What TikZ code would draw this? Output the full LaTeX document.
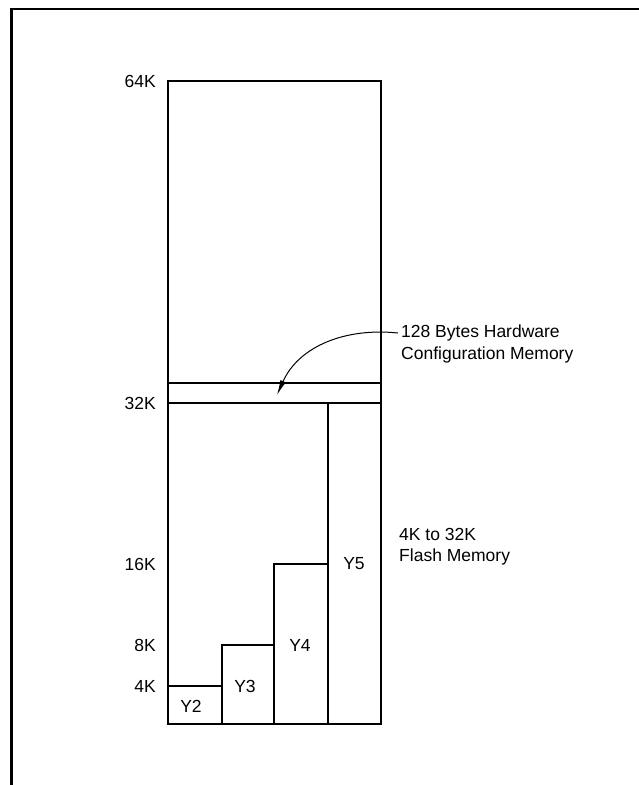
\documentclass[tikz,border=0pt]{standalone}
\usepackage{fontspec}
\setmainfont{Liberation Sans}
\usepackage{tikz}
\usetikzlibrary{positioning,arrows.meta}

\begin{document}
\begin{tikzpicture}[
      x=1pt, y=-1pt,
      font=\fontsize{17.5}{22}\selectfont,
      wall/.style={line width=2pt, line join=miter},
      frame/.style={line width=2.4pt},
      addr/.style={anchor=east, inner sep=0pt},
      note/.style={anchor=west, inner sep=0pt, text height=13pt, text depth=4pt},
      arrow/.style={-{Latex[length=15pt, width=6pt]}, line width=1pt},
    ]
      \useasboundingbox (0,0) rectangle (639,785);
      % page frame (top and left only)
      \draw[frame] (11.5,785) -- (11.5,9) -- (639,9);
      % memory map
      \draw[wall] (168,81) rectangle (381,724);
      \draw[wall] (168,383) -- (381,383);
      \draw[wall] (168,403) -- (381,403);
      \draw[wall] (328,403) -- (328,724);
      \draw[wall] (274,724) |- (328,564);
      \draw[wall] (222,724) |- (274,645);
      \draw[wall] (168,686) -| (222,645);
      % address marks
      \node[addr] (k64) at (156,81) {64K};
      \node[addr] (k32) at (156,403) {32K};
      \node[addr] (k16) at (156,564) {16K};
      \node[addr] (k8) at (156,645) {8K};
      \node[addr] (k4) at (156,686) {4K};
      % chip selects
      \node (y2) at (191,706) {Y2};
      \node (y3) at (245,686) {Y3};
      \node (y4) at (300,645) {Y4};
      \node (y5) at (354,564) {Y5};
      % notes
      \node[note] (cfga) at (401,333) {128 Bytes Hardware};
      \node[note, below=5pt of cfga.south west, anchor=north west] (cfgb) {Configuration Memory};
      \node[note] (flasha) at (399,536) {4K to 32K};
      \node[note, below=4pt of flasha.south west, anchor=north west] (flashb) {Flash Memory};
      \coordinate (strip) at (277,395);
      \draw[arrow] ([xshift=-3pt]cfga.west) to[out=174, in=66] (strip);
    \end{tikzpicture}
\end{document}
